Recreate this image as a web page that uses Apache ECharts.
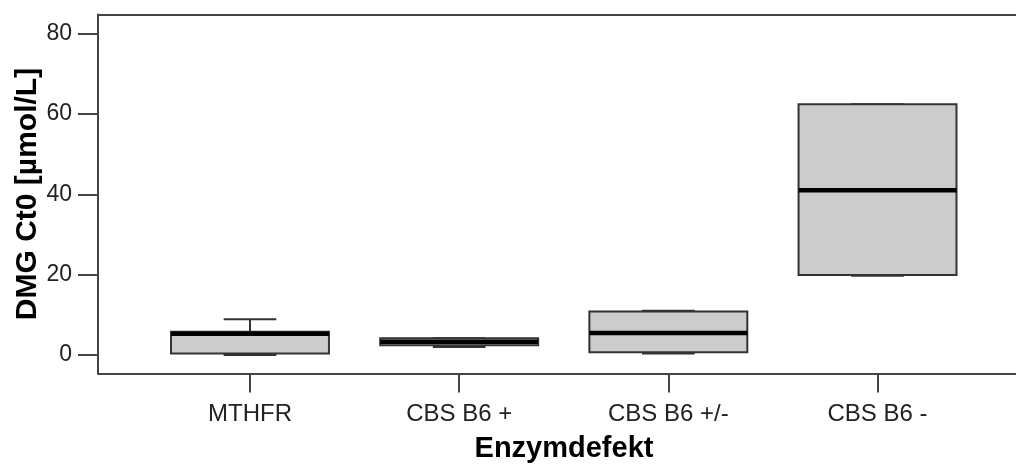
<!DOCTYPE html>
<html>
<head>
<meta charset="utf-8">
<script src="https://cdn.jsdelivr.net/npm/echarts@6/dist/echarts.min.js"></script>
<style>html,body{margin:0;padding:0;background:#fff;}#c{width:1016px;height:466px;}</style>
</head>
<body>
<div id="c"></div>
<script>
// Categories and box statistics: [min, Q1, median, Q3, max]
var categories = ['MTHFR', 'CBS B6 +', 'CBS B6 +/-', 'CBS B6 -'];
var whiskerLow  = [0.0, 2.0, 0.4, 19.7];
var quartile1   = [0.4, 2.4, 0.7, 19.9];
var medians     = [5.3, 3.3, 5.5, 41.0];
var quartile3   = [5.8, 4.2, 10.8, 62.4];
var whiskerHigh = [8.9, 4.2, 11.0, 62.4];
var yTicks = [0, 20, 40, 60, 80];
var xPositions = [1, 2, 3, 4];

var data = categories.map(function (c, i) {
  return [xPositions[i], whiskerLow[i], quartile1[i], medians[i], quartile3[i], whiskerHigh[i]];
});

var chart = echarts.init(document.getElementById('c'), null, {renderer: 'canvas'});
var font = 'Liberation Sans, Arial, sans-serif';

function renderItem(params, api) {
  var x = api.value(0);
  var band = api.size([1, 0])[0];
  var bw = band * 0.755;
  var cw = bw / 3;
  var pMin = api.coord([x, api.value(1)]);
  var pQ1 = api.coord([x, api.value(2)]);
  var pMed = api.coord([x, api.value(3)]);
  var pQ3 = api.coord([x, api.value(4)]);
  var pMax = api.coord([x, api.value(5)]);
  var cx = pMed[0];
  var line = {stroke: '#333', lineWidth: 2};
  return {
    type: 'group',
    children: [
      {type: 'line', shape: {x1: cx, y1: pQ3[1], x2: cx, y2: pMax[1]}, style: line},
      {type: 'line', shape: {x1: cx, y1: pQ1[1], x2: cx, y2: pMin[1]}, style: line},
      {type: 'line', shape: {x1: cx - cw / 2, y1: pMax[1], x2: cx + cw / 2, y2: pMax[1]}, style: line},
      {type: 'line', shape: {x1: cx - cw / 2, y1: pMin[1], x2: cx + cw / 2, y2: pMin[1]}, style: line},
      {type: 'rect', shape: {x: cx - bw / 2, y: pQ3[1], width: bw, height: pQ1[1] - pQ3[1]},
        style: {fill: '#cccccc', stroke: '#333', lineWidth: 2}},
      {type: 'line', shape: {x1: cx - bw / 2, y1: pMed[1], x2: cx + bw / 2, y2: pMed[1]},
        style: {stroke: '#000', lineWidth: 4.5}}
    ]
  };
}

var xMin = 0.2734, xMax = 4.662;

chart.setOption({
  animation: false,
  backgroundColor: '#fff',
  grid: {left: 98, right: 0, top: 14.5, bottom: 92.5, show: false, outerBoundsMode: 'none', containLabel: false},
  xAxis: [{
    type: 'value', min: xMin, max: xMax,
    name: 'Enzymdefekt', nameLocation: 'middle', nameGap: 61,
    nameTextStyle: {fontFamily: font, fontSize: 29, fontWeight: 'bold', color: '#000', padding: [0, 0, 0, 14]},
    axisLine: {show: true, onZero: false, lineStyle: {color: '#444', width: 2}},
    axisTick: {show: true, customValues: xPositions, length: 19, lineStyle: {color: '#444', width: 2}},
    axisLabel: {customValues: xPositions, margin: 29, fontFamily: font, fontSize: 24, color: '#222',
      formatter: function (v) { return categories[Math.round(v) - 1] || ''; }},
    splitLine: {show: false}
  }, {
    type: 'value', min: xMin, max: xMax, position: 'top',
    axisLine: {show: true, onZero: false, lineStyle: {color: '#444', width: 2}},
    axisTick: {show: false}, axisLabel: {show: false}, splitLine: {show: false}
  }],
  yAxis: {
    type: 'value', min: -4.6, max: 84.73,
    name: 'DMG Ct0 [µmol/L]', nameLocation: 'middle', nameGap: 55, nameRotate: 90,
    nameMoveOverlap: false,
    nameTextStyle: {fontFamily: font, fontSize: 30, fontWeight: 'bold', color: '#000'},
    axisLine: {show: true, onZero: false, lineStyle: {color: '#444', width: 2}},
    axisTick: {show: true, customValues: yTicks, length: 20, lineStyle: {color: '#444', width: 2}},
    axisLabel: {customValues: yTicks, margin: 26, fontFamily: font, fontSize: 23, color: '#222'},
    splitLine: {show: false}
  },
  series: [{
    type: 'custom',
    renderItem: renderItem,
    encode: {x: 0, y: [1, 2, 3, 4, 5]},
    data: data
  }]
});
</script>
</body>
</html>
